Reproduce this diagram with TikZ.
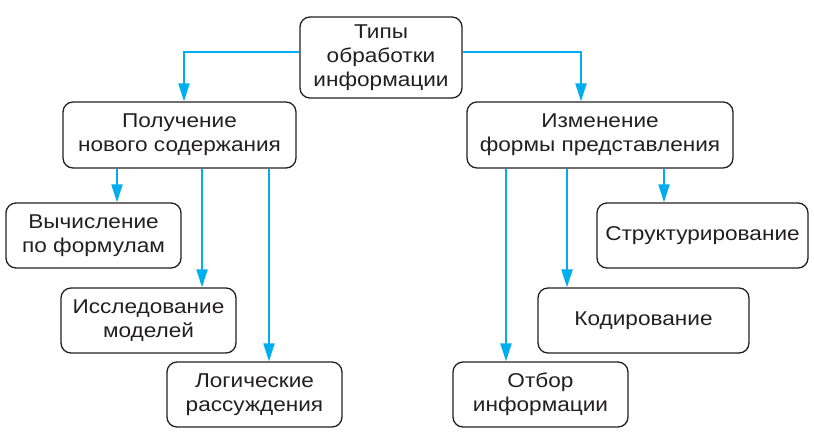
\documentclass[tikz,border=0pt]{standalone}
\usepackage{fontspec}
\setmainfont{Liberation Sans}[FakeStretch=1.13]
\usetikzlibrary{arrows.meta}
\definecolor{arrowblue}{RGB}{0,174,239}
\definecolor{textgray}{RGB}{35,31,32}
\tikzset{
  box/.style={draw=textgray, line width=1.3pt, rounded corners=10pt, align=center,
    text=textgray, font=\fontsize{20}{24}\selectfont, inner sep=0pt},
  arr/.style={arrowblue, line width=2pt, -{Triangle[length=18pt,width=11pt]}}
}
\begin{document}
\begin{tikzpicture}[x=1pt, y=-1pt]
          \useasboundingbox (0,0) rectangle (814,440);

          \node[box, minimum width=162pt, minimum height=81pt] (types) at (381,57.5) {Типы\\обработки\\информации};
          \node[box, minimum width=233pt, minimum height=66pt] (newcont) at (179.5,135) {Получение\\нового содержания};
          \node[box, minimum width=266pt, minimum height=66pt] (newform) at (600,135) {Изменение\\формы представления};

          \node[box, minimum width=175pt, minimum height=65pt] (calc) at (93.5,235.5) {Вычисление\\по формулам};
          \node[box, minimum width=175pt, minimum height=65pt] (models) at (148.5,320.5) {Исследование\\моделей};
          \node[box, minimum width=175pt, minimum height=65pt] (logic) at (254.5,394.5) {Логические\\рассуждения};

          \node[box, minimum width=211pt, minimum height=65pt] (struct) at (702.5,235.5) {Структурирование};
          \node[box, minimum width=211pt, minimum height=65pt] (coding) at (643.5,320.5) {Кодирование};
          \node[box, minimum width=175pt, minimum height=65pt] (select) at (540.5,394.5) {Отбор\\информации};

          \coordinate (lt) at (184,52);
          \coordinate (rt) at (581,52);
          \draw[arr] (types.west |- lt) -| (lt |- newcont.north);
          \draw[arr] (types.east |- rt) -| (rt |- newform.north);

          \draw[arr] (117,0 |- newcont.south) -- (117,0 |- calc.north);
          \draw[arr] (202,0 |- newcont.south) -- (202,0 |- models.north);
          \draw[arr] (269,0 |- newcont.south) -- (269,0 |- logic.north);

          \draw[arr] (664,0 |- newform.south) -- (664,0 |- struct.north);
          \draw[arr] (567,0 |- newform.south) -- (567,0 |- coding.north);
          \draw[arr] (506,0 |- newform.south) -- (506,0 |- select.north);
        \end{tikzpicture}
\end{document}
